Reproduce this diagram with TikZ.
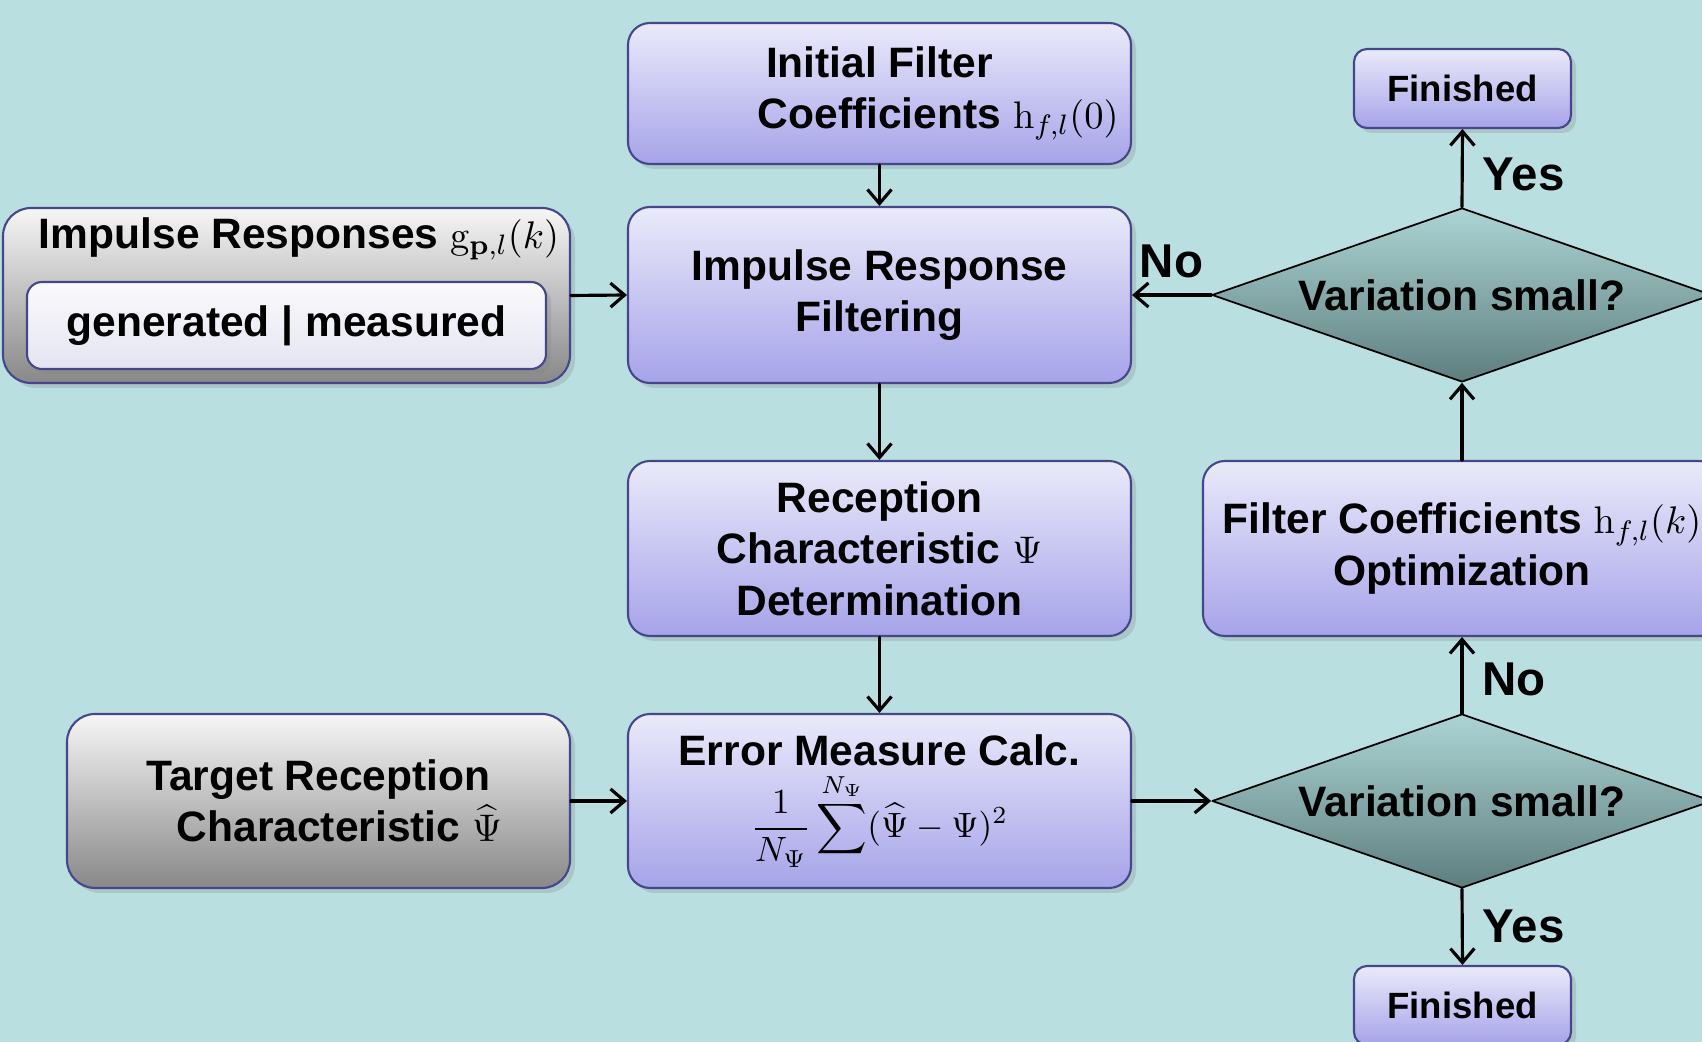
\documentclass[tikz,border=0pt]{standalone}
\usepackage[no-math]{fontspec}
\setmainfont{Liberation Sans}
\usetikzlibrary{shapes.geometric,shadows,arrows.meta}
\definecolor{bgteal}{RGB}{185,223,225}
\definecolor{boxtop}{RGB}{234,234,250}
\definecolor{boxbot}{RGB}{166,163,233}
\definecolor{boxline}{RGB}{70,70,140}
\definecolor{graytop}{RGB}{246,246,246}
\definecolor{graybot}{RGB}{136,136,136}
\definecolor{innertop}{RGB}{250,250,252}
\definecolor{innerbot}{RGB}{228,228,242}
\definecolor{diatop}{RGB}{172,212,212}
\definecolor{diabot}{RGB}{94,126,126}
\newcommand\mth[1]{{\fontsize{11}{13}\selectfont$#1$}}
\begin{document}
\begin{tikzpicture}[font=\fontsize{12.1}{14.6}\selectfont\bfseries, line join=round, line cap=round, >={Straight Barb[length=1.4mm,width=2.4mm]},
	box/.style={draw=boxline, line width=0.6pt, rounded corners=0.22cm, top color=boxtop, bottom color=boxbot, align=center, inner sep=2pt, drop shadow={shadow xshift=0.05cm, shadow yshift=-0.05cm, opacity=0.25}},
	graybox/.style={box, rounded corners=0.28cm, top color=graytop, bottom color=graybot},
	innerbox/.style={box, rounded corners=0.15cm, top color=innertop, bottom color=innerbot},
	decide/.style={diamond, aspect=2.87, draw=black, line width=0.5pt, top color=diatop, bottom color=diabot, inner sep=0pt, minimum width=5cm, minimum height=1.74cm},
	endbox/.style={box, rounded corners=0.13cm, minimum width=2.17cm, minimum height=0.79cm, font=\fontsize{10.4}{12}\selectfont\bfseries},
	lbl/.style={font=\fontsize{13.5}{15}\selectfont\bfseries},
	flow/.style={->, line width=0.9pt}]
	\useasboundingbox (0,0) rectangle (17.02,10.42);
	\clip (0,0) rectangle (17.02,10.42);
	\fill[bgteal] (0,0) rectangle (17.02,10.42);
	\path
	(8.795,9.485) node[box, minimum width=5.03cm, minimum height=1.41cm] (init) {Initial Filter\\Coefficients\rlap{ \mth{\mathrm{h}_{f,l}(0)}}}
	(8.795,7.47) node[box, minimum width=5.03cm, minimum height=1.76cm] (filt) {Impulse Response\\Filtering}
	(8.795,4.935) node[box, minimum width=5.03cm, minimum height=1.75cm] (recep) {Reception\\Characteristic \mth{\Psi}\\Determination}
	(8.795,2.41) node[box, minimum width=5.03cm, minimum height=1.74cm] (err) {Error Measure Calc.\\[1pt]{\fontsize{10.2}{12}\selectfont$\displaystyle\frac{1}{N_\Psi}\sum^{N_\Psi}(\widehat{\Psi}-\Psi)^2$}}

	(2.865,7.465) node[graybox, minimum width=5.67cm, minimum height=1.75cm] (imp) {}
	(2.99,8.03) node (impt) {Impulse Responses \mth{\mathrm{g}_{\mathbf{p},l}(k)}}
	(2.865,7.165) node[innerbox, minimum width=5.19cm, minimum height=0.87cm] (impg) {generated | measured}
	(3.185,2.41) node[graybox, minimum width=5.03cm, minimum height=1.74cm] (target) {Target Reception\\Characteristic\rlap{ \mth{\widehat{\Psi}}}}

	(14.625,9.535) node[endbox] (finA) {Finished}
	(14.62,7.47) node[decide] (diaA) {Variation small?}
	(14.62,4.935) node[box, minimum width=5.18cm, minimum height=1.75cm] (optim) {Filter Coefficients \mth{\mathrm{h}_{f,l}(k)}\\Optimization}
	(14.62,2.41) node[decide] (diaB) {Variation small?}
	(14.625,0.365) node[endbox] (finB) {Finished};

	\draw[flow] (init.south) -- (filt.north);
	\draw[flow] (filt.south) -- (recep.north);
	\draw[flow] (recep.south) -- (err.north);
	\draw[flow] (imp.east) -- (filt.west);
	\draw[flow] (target.east) -- (err.west);
	\draw[flow] (err.east) -- (diaB.west);
	\draw[flow] (diaB.north) -- node[lbl, right=2pt, yshift=-0.04cm] {No} (optim.south);
	\draw[flow] (optim.north) -- (diaA.south);
	\draw[flow] (diaA.west) -- node[lbl, above=1pt] {No} (filt.east);
	\draw[flow] (diaA.north) -- node[lbl, right=2pt, yshift=-0.06cm] {Yes} (finA.south);
	\draw[flow] (diaB.south) -- node[lbl, right=2pt] {Yes} (finB.north);
\end{tikzpicture}
\end{document}
